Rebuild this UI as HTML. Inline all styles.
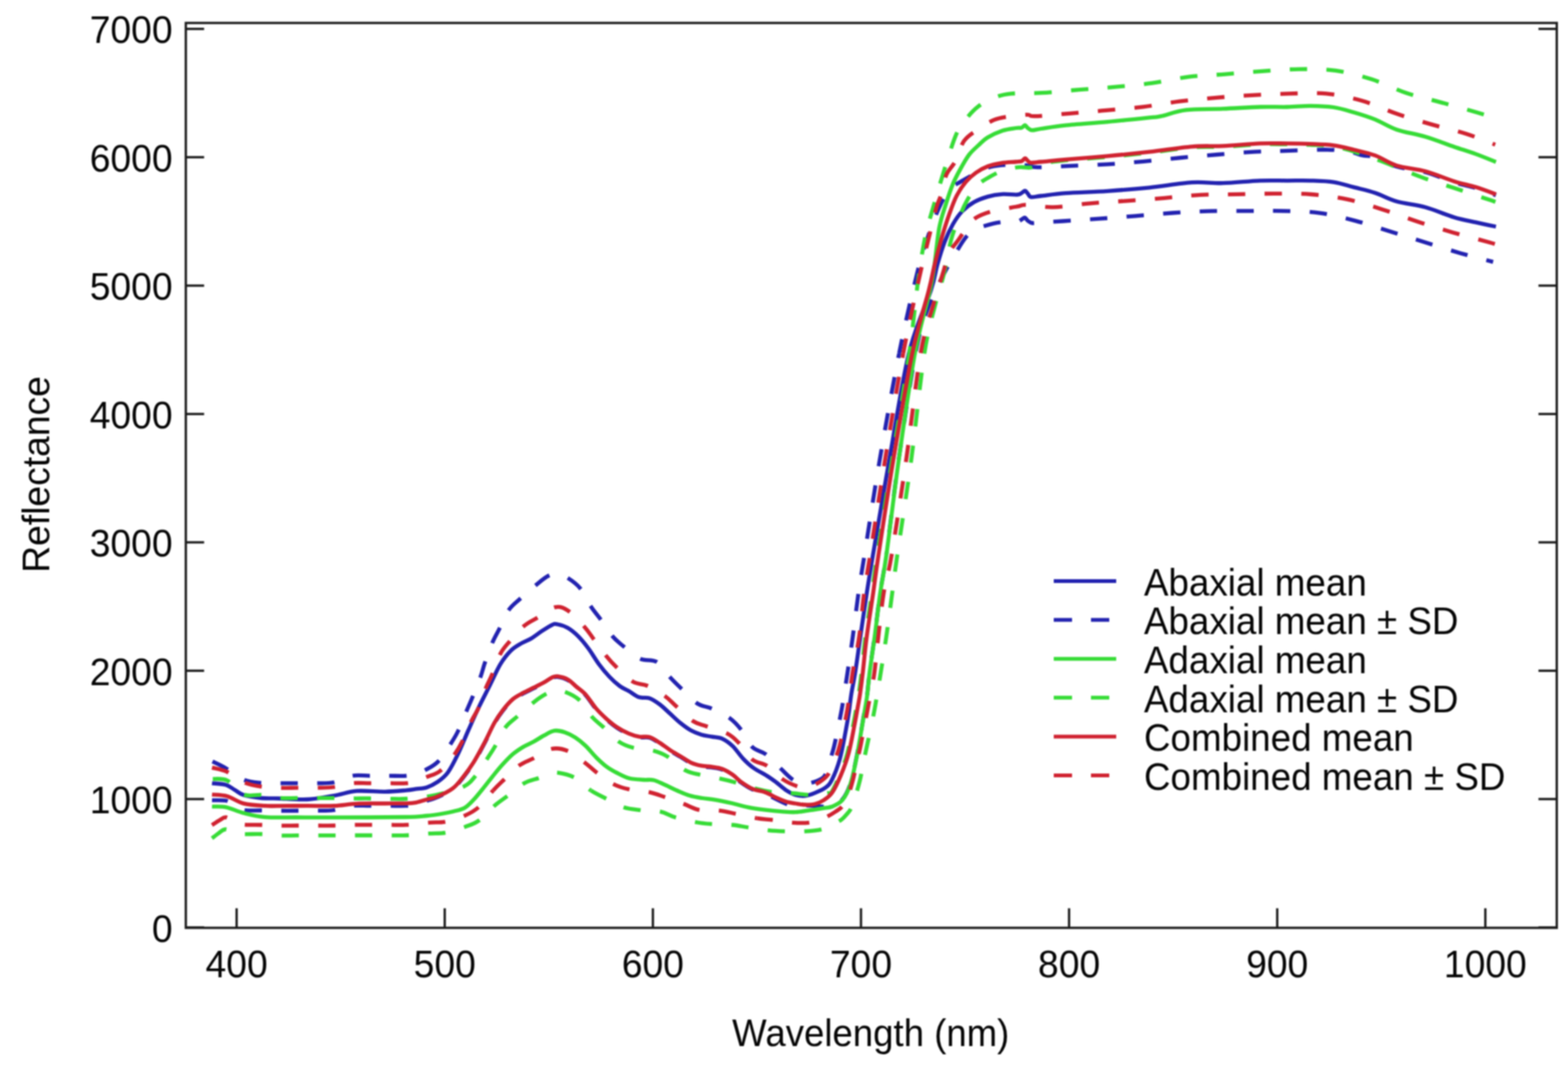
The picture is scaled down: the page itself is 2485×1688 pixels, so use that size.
<!DOCTYPE html><html><head><meta charset="utf-8"><title>Reflectance</title><style>html,body{margin:0;padding:0;background:#fff;}svg{display:block;}#c{width:2485px;height:1688px;filter:blur(1px);}text{font-family:"Liberation Sans",sans-serif;fill:#050505;}</style></head><body>
<div id="c">
<svg width="2485" height="1688" viewBox="0 0 2485 1688">
<rect width="2485" height="1688" fill="#fff"/>
<g fill="none" stroke-width="6.3" stroke-linejoin="round" stroke-linecap="butt">
<path d="M336.0 1241.3C339.7 1241.8 352.0 1242.2 358.0 1244.0C364.0 1245.8 367.2 1249.3 372.0 1252.0C376.8 1254.7 379.3 1258.1 386.5 1260.3C393.7 1262.5 406.1 1264.1 415.0 1265.0C423.9 1265.9 428.0 1265.2 440.0 1265.5C452.0 1265.8 472.1 1267.8 487.0 1267.0C501.9 1266.2 516.5 1263.2 529.6 1261.0C542.7 1258.8 552.0 1254.7 565.4 1253.7C578.8 1252.7 596.9 1255.0 610.0 1254.8C623.1 1254.6 635.5 1253.3 643.8 1252.6C652.1 1251.9 654.5 1251.2 660.0 1250.4C665.5 1249.6 671.0 1249.7 676.5 1247.9C682.0 1246.1 687.4 1243.5 692.9 1239.7C698.4 1235.9 703.9 1232.3 709.4 1224.9C714.9 1217.5 720.3 1206.5 725.8 1195.2C731.3 1184.0 736.8 1169.8 742.3 1157.4C747.8 1145.0 753.1 1132.9 758.8 1121.0C764.5 1109.1 770.8 1097.2 776.5 1085.8C782.2 1074.4 787.4 1061.9 792.9 1052.8C798.4 1043.7 803.9 1036.9 809.4 1031.4C814.9 1025.9 820.3 1023.2 825.8 1019.9C831.3 1016.6 836.8 1015.0 842.3 1011.7C847.8 1008.4 853.3 1003.8 858.8 1000.2C864.3 996.6 871.1 992.1 875.2 990.3C879.3 988.5 879.4 988.7 883.5 989.5C887.6 990.3 894.4 992.1 899.9 995.2C905.4 998.4 910.9 1002.9 916.4 1008.4C921.9 1013.9 927.3 1020.7 932.8 1028.1C938.3 1035.5 943.8 1045.4 949.3 1052.8C954.8 1060.2 960.3 1066.8 965.8 1072.6C971.3 1078.4 977.1 1083.6 982.2 1087.4C987.3 1091.2 991.4 1092.2 996.5 1095.2C1001.6 1098.2 1007.4 1103.2 1012.9 1105.1C1018.4 1107.0 1023.9 1104.8 1029.4 1106.7C1034.9 1108.6 1040.3 1112.5 1045.8 1116.6C1051.3 1120.7 1056.8 1126.5 1062.3 1131.4C1067.8 1136.4 1073.3 1141.9 1078.8 1146.3C1084.3 1150.7 1089.7 1154.8 1095.2 1157.8C1100.7 1160.8 1106.2 1162.8 1111.7 1164.4C1117.2 1166.1 1122.6 1166.6 1128.1 1167.7C1133.6 1168.8 1139.1 1168.4 1144.6 1170.9C1150.1 1173.4 1155.6 1177.3 1161.1 1182.5C1166.6 1187.7 1172.0 1196.5 1177.5 1202.2C1183.0 1208.0 1187.7 1212.5 1194.0 1217.0C1200.3 1221.5 1209.1 1225.7 1215.2 1229.5C1221.3 1233.3 1225.3 1236.3 1230.4 1240.1C1235.5 1243.9 1240.5 1249.0 1245.6 1252.3C1250.7 1255.6 1255.7 1258.4 1260.8 1259.9C1265.9 1261.4 1270.9 1261.9 1276.0 1261.4C1281.1 1260.9 1285.9 1259.0 1291.2 1256.8C1296.5 1254.6 1303.5 1251.9 1308.0 1248.5C1312.5 1245.1 1314.6 1243.8 1318.4 1236.2C1322.2 1228.6 1327.4 1215.7 1331.0 1203.0C1334.6 1190.3 1337.6 1172.5 1340.0 1160.0C1342.4 1147.5 1344.0 1138.0 1345.5 1128.0C1347.0 1118.0 1347.5 1110.5 1349.2 1100.0C1350.9 1089.5 1353.1 1080.0 1355.5 1065.0C1357.9 1050.0 1360.4 1030.8 1363.4 1010.0C1366.4 989.2 1370.4 961.7 1373.7 940.0C1377.0 918.3 1377.5 915.0 1383.4 880.0C1389.3 845.0 1399.7 783.3 1409.2 730.0C1418.7 676.7 1429.4 605.0 1440.4 560.0C1451.4 515.0 1467.9 483.4 1475.4 460.0C1482.9 436.6 1482.0 432.2 1485.6 419.4C1489.2 406.6 1493.1 393.7 1497.2 383.0C1501.3 372.3 1505.7 363.3 1510.3 355.3C1514.9 347.3 1519.3 340.7 1524.9 334.9C1530.5 329.1 1537.0 324.2 1543.8 320.3C1550.6 316.4 1558.4 313.7 1565.7 311.6C1573.0 309.5 1579.8 308.3 1587.5 307.8C1595.2 307.3 1606.8 308.8 1612.0 308.5C1617.2 308.2 1616.9 307.0 1619.0 306.0C1621.1 305.0 1622.9 302.3 1624.6 302.5C1626.3 302.7 1627.4 305.4 1629.0 307.0C1630.6 308.6 1630.5 311.7 1634.0 312.3C1637.5 312.9 1640.9 311.5 1650.0 310.5C1659.1 309.5 1671.2 307.4 1688.7 306.1C1706.2 304.8 1733.0 304.3 1755.2 302.8C1777.4 301.3 1799.4 299.6 1821.7 297.3C1844.0 295.0 1869.6 290.4 1889.0 289.2C1908.4 288.0 1920.1 290.7 1938.1 290.2C1956.1 289.7 1980.0 286.9 1997.0 286.3C2014.0 285.7 2026.7 286.3 2040.0 286.3C2053.3 286.3 2064.6 285.9 2076.8 286.3C2089.0 286.7 2101.8 286.9 2113.2 288.6C2124.6 290.3 2134.2 293.8 2145.2 296.6C2156.2 299.5 2167.9 301.9 2179.3 305.7C2190.7 309.5 2200.2 315.5 2213.5 319.3C2226.8 323.1 2243.9 324.3 2259.1 328.5C2274.3 332.7 2291.4 340.4 2304.7 344.4C2318.0 348.4 2327.9 349.9 2338.9 352.4C2349.9 354.9 2365.5 358.1 2370.8 359.2" stroke="#2222b0"/>
<path d="M336.0 1206.6C339.7 1208.4 349.6 1212.7 358.0 1217.6C366.4 1222.5 377.0 1232.1 386.5 1236.0C396.0 1239.9 405.5 1240.1 415.0 1241.0C424.5 1241.9 434.3 1241.3 443.5 1241.4C452.7 1241.5 460.6 1241.4 470.3 1241.4C480.0 1241.4 491.9 1241.6 501.7 1241.4C511.5 1241.2 519.6 1242.0 529.0 1240.0C538.4 1238.0 548.8 1231.3 558.2 1229.6C567.6 1227.9 576.0 1229.6 585.6 1229.6C595.2 1229.6 606.1 1229.6 615.8 1229.6C625.5 1229.6 636.4 1230.2 643.8 1229.6C651.2 1229.0 654.8 1227.6 660.0 1226.0C665.2 1224.4 669.0 1223.2 674.8 1220.0C680.6 1216.8 688.0 1213.6 694.6 1206.7C701.2 1199.8 709.1 1186.8 714.3 1178.8C719.5 1170.8 721.7 1167.5 725.8 1159.0C729.9 1150.5 735.1 1136.8 739.0 1127.7C742.9 1118.7 745.1 1113.9 748.9 1104.7C752.7 1095.5 758.4 1081.5 761.6 1072.6C764.8 1063.7 765.2 1060.0 768.2 1051.2C771.2 1042.4 775.9 1029.0 779.8 1019.9C783.6 1010.8 786.9 1005.7 791.3 996.9C795.7 988.1 800.5 975.2 806.0 967.2C811.5 959.2 817.1 955.7 824.2 949.1C831.4 942.5 841.5 933.7 848.9 927.7C856.3 921.7 862.8 915.9 868.6 912.9C874.5 909.9 878.8 909.5 884.0 910.0C889.2 910.5 893.9 912.4 899.9 916.2C905.9 920.0 913.7 925.3 919.7 932.7C925.7 940.1 930.9 952.8 936.1 960.7C941.3 968.7 945.1 972.5 950.9 980.4C956.7 988.3 964.4 1001.0 970.7 1008.4C977.0 1015.8 981.5 1018.9 988.8 1024.9C996.1 1030.9 1005.9 1040.2 1014.6 1044.2C1023.3 1048.2 1033.0 1044.2 1040.9 1049.1C1048.9 1054.0 1055.7 1066.7 1062.3 1073.8C1068.9 1080.9 1073.3 1085.0 1080.4 1091.9C1087.5 1098.8 1097.1 1109.8 1105.1 1115.0C1113.0 1120.2 1119.6 1119.4 1128.1 1123.2C1136.6 1127.0 1148.4 1132.5 1156.1 1138.0C1163.8 1143.5 1168.2 1148.4 1174.2 1156.1C1180.2 1163.8 1185.7 1177.5 1192.3 1184.1C1198.9 1190.7 1206.1 1189.8 1213.7 1195.6C1221.3 1201.4 1230.9 1212.1 1238.0 1218.8C1245.1 1225.5 1250.5 1231.6 1256.2 1235.5C1261.9 1239.4 1266.7 1241.2 1272.0 1242.0C1277.3 1242.8 1282.7 1241.8 1288.2 1240.1C1293.7 1238.4 1300.9 1236.2 1305.0 1232.0C1309.1 1227.8 1310.8 1221.2 1313.0 1215.0C1315.2 1208.8 1316.8 1201.2 1318.5 1195.0C1320.2 1188.8 1320.4 1189.8 1323.0 1178.0C1325.6 1166.2 1330.6 1142.8 1334.0 1124.0C1337.4 1105.2 1340.4 1084.0 1343.3 1065.0C1346.2 1046.0 1348.5 1030.8 1351.4 1010.0C1354.3 989.2 1357.4 961.7 1360.5 940.0C1363.6 918.3 1364.4 915.0 1370.0 880.0C1375.6 845.0 1384.8 783.3 1394.0 730.0C1403.2 676.7 1415.2 609.2 1425.0 560.0" stroke="#2222b0" stroke-dasharray="27.5 30.6" stroke-dashoffset="57.10"/>
<path d="M1425.0 560.0C1434.8 510.8 1445.5 465.5 1453.0 435.0C1460.5 404.5 1464.2 394.5 1470.0 377.0C1475.8 359.5 1482.2 342.8 1488.0 330.0C1493.8 317.2 1499.3 306.9 1505.0 300.0C1510.7 293.1 1515.5 292.3 1522.0 288.3C1528.5 284.3 1536.0 280.0 1544.0 276.0C1552.0 272.0 1560.7 267.0 1570.0 264.5C1579.3 262.0 1590.8 261.4 1600.0 261.0C1609.2 260.6 1617.6 261.3 1625.0 262.0C1632.4 262.7 1632.2 265.0 1644.3 265.1C1656.4 265.2 1679.0 263.7 1697.5 262.9C1716.0 262.1 1736.0 261.5 1755.2 260.3C1774.4 259.1 1793.4 257.5 1812.8 255.8C1832.2 254.1 1852.0 251.8 1871.4 250.0C1890.8 248.2 1910.0 246.6 1929.3 245.0C1948.6 243.4 1969.4 241.7 1987.2 240.7C2005.0 239.7 2016.8 239.8 2036.3 239.2C2055.8 238.6 2086.8 237.0 2104.1 237.3C2121.4 237.6 2130.7 239.5 2140.0 241.0C2149.3 242.5 2153.4 245.2 2160.0 246.5C2166.6 247.8 2170.4 246.1 2179.3 249.0C2188.2 251.9 2200.2 260.0 2213.5 264.0C2226.8 268.0 2243.9 268.8 2259.1 273.0C2274.3 277.2 2291.4 284.8 2304.7 289.0C2318.0 293.2 2327.9 294.6 2338.9 298.0C2349.9 301.4 2365.5 307.6 2370.8 309.5" stroke="#2222b0" stroke-dasharray="27.5 30.6" stroke-dashoffset="4.83"/>
<path d="M336.0 1268.4C339.7 1268.5 352.0 1267.7 358.0 1269.0C364.0 1270.3 367.2 1273.5 372.0 1276.0C376.8 1278.5 379.3 1282.6 386.5 1284.0C393.7 1285.4 405.5 1284.3 415.0 1284.5C424.5 1284.7 434.3 1284.9 443.5 1285.0C452.7 1285.1 460.6 1285.0 470.3 1285.0C480.0 1285.0 491.9 1285.2 501.7 1285.0C511.5 1284.8 519.6 1285.3 529.0 1284.0C538.4 1282.7 548.8 1278.3 558.2 1277.2C567.6 1276.1 576.0 1277.2 585.6 1277.2C595.2 1277.2 606.1 1277.2 615.8 1277.2C625.5 1277.2 636.4 1277.6 643.8 1277.2C651.2 1276.8 654.5 1276.4 660.0 1275.0C665.5 1273.6 671.5 1270.9 677.0 1269.0C682.5 1267.1 686.1 1266.8 692.9 1263.7C699.7 1260.6 710.8 1255.7 717.6 1250.5C724.5 1245.3 728.5 1239.2 734.0 1232.4C739.5 1225.6 745.0 1218.2 750.5 1209.4C756.0 1200.6 761.5 1190.2 767.0 1179.8C772.5 1169.4 778.6 1155.6 783.5 1146.8C788.4 1138.0 791.6 1133.4 796.5 1127.1C801.4 1120.8 807.4 1113.7 812.9 1109.0C818.4 1104.3 823.9 1102.1 829.4 1099.1C834.9 1096.1 840.3 1093.7 845.8 1090.9C851.3 1088.2 857.4 1085.3 862.3 1082.6C867.2 1079.9 871.7 1076.2 875.2 1074.6C878.7 1073.0 879.4 1072.4 883.5 1072.9C887.6 1073.5 895.0 1075.2 899.9 1077.9C904.8 1080.6 908.3 1085.0 913.0 1089.0C917.7 1093.0 922.8 1096.0 928.1 1101.8C933.4 1107.6 939.1 1117.4 944.6 1123.8C950.1 1130.2 955.6 1135.4 961.1 1140.3C966.6 1145.2 971.6 1149.5 977.5 1153.4C983.4 1157.3 990.6 1161.2 996.5 1163.7C1002.4 1166.2 1007.4 1167.8 1012.9 1168.7C1018.4 1169.6 1023.9 1167.6 1029.4 1169.2C1034.9 1170.8 1040.3 1175.0 1045.8 1178.5C1051.3 1182.0 1056.8 1186.5 1062.3 1190.1C1067.8 1193.7 1073.3 1196.6 1078.8 1199.9C1084.3 1203.2 1089.7 1207.3 1095.2 1209.8C1100.7 1212.3 1106.2 1213.6 1111.7 1214.7C1117.2 1215.8 1122.6 1215.6 1128.1 1216.4C1133.6 1217.2 1139.1 1217.6 1144.6 1219.7C1150.1 1221.8 1156.2 1225.5 1161.1 1228.9C1166.0 1232.3 1168.7 1236.2 1174.0 1240.0C1179.3 1243.8 1186.3 1248.6 1192.8 1251.4C1199.2 1254.2 1207.7 1254.8 1212.7 1256.7C1217.7 1258.6 1216.8 1259.8 1222.8 1262.9C1228.8 1266.0 1241.7 1272.8 1248.6 1275.1C1255.5 1277.4 1258.9 1276.8 1264.0 1277.0C1269.1 1277.2 1272.4 1276.2 1279.0 1276.5C1285.6 1276.8 1296.8 1278.3 1303.4 1278.5C1310.0 1278.7 1313.1 1279.4 1318.4 1277.5C1323.7 1275.6 1330.2 1272.9 1335.1 1267.0C1340.0 1261.1 1343.9 1253.3 1347.6 1242.2C1351.3 1231.1 1354.2 1216.6 1357.4 1200.4C1360.7 1184.2 1364.8 1158.6 1367.1 1145.0C1369.4 1131.4 1370.2 1126.7 1371.5 1119.0C1372.8 1111.3 1373.5 1108.2 1374.6 1099.0C1375.7 1089.8 1376.4 1079.0 1378.3 1064.0C1380.2 1049.0 1383.3 1029.8 1386.1 1009.0C1388.9 988.2 1391.9 960.7 1395.0 939.0C1398.1 917.3 1399.8 914.0 1404.7 879.0" stroke="#2222b0" stroke-dasharray="27.5 30.6" stroke-dashoffset="2.50"/>
<path d="M1404.7 879.0C1409.6 844.0 1416.5 782.2 1424.2 729.0C1431.9 675.8 1443.4 599.8 1451.0 560.0C1458.6 520.2 1462.5 511.0 1470.0 490.0C1477.5 469.0 1486.4 452.3 1496.0 434.0C1505.6 415.7 1519.6 391.7 1527.8 380.0C1536.0 368.3 1539.7 367.6 1545.0 364.0C1550.3 360.4 1553.3 360.1 1559.9 358.2C1566.5 356.3 1575.9 353.6 1584.6 352.4C1593.3 351.2 1606.4 351.6 1612.0 351.0C1617.6 350.4 1616.0 349.5 1618.0 348.5C1620.0 347.5 1622.2 344.8 1624.0 345.0C1625.8 345.2 1627.0 348.6 1629.0 350.0C1631.0 351.4 1632.5 353.1 1636.0 353.5C1639.5 353.9 1642.0 353.0 1650.0 352.5C1658.0 352.0 1668.9 351.5 1684.2 350.5C1699.5 349.5 1722.7 348.1 1741.9 346.7C1761.1 345.3 1780.2 343.8 1799.5 342.3C1818.8 340.8 1838.6 338.8 1857.9 337.5C1877.2 336.2 1896.2 335.2 1915.6 334.7C1935.0 334.2 1955.0 334.4 1974.4 334.4C1993.9 334.3 2012.8 333.9 2032.3 334.4C2051.8 334.9 2072.2 335.0 2091.6 337.6C2111.0 340.2 2129.8 345.2 2148.6 350.1C2167.4 355.0 2186.0 361.5 2204.4 367.2C2222.8 372.9 2240.7 378.6 2259.1 384.3C2277.5 390.0 2297.1 396.3 2315.0 401.4C2332.9 406.5 2357.8 412.8 2366.3 415.1" stroke="#2222b0" stroke-dasharray="27.5 30.6" stroke-dashoffset="22.66"/>
<path d="M336.0 1278.4C339.7 1278.6 349.6 1277.6 358.0 1279.3C366.4 1281.0 376.2 1286.2 386.5 1288.8C396.8 1291.4 406.1 1294.0 420.0 1295.1C433.9 1296.2 451.7 1295.4 470.0 1295.5C488.3 1295.6 501.4 1295.8 530.0 1295.7C558.6 1295.6 617.3 1295.5 641.6 1295.0C665.9 1294.5 665.9 1293.9 676.0 1293.0C686.1 1292.1 694.8 1290.7 702.0 1289.5C709.2 1288.3 713.3 1287.5 719.0 1286.0C724.7 1284.5 731.0 1283.5 736.3 1280.5C741.5 1277.5 745.4 1273.1 750.5 1267.7C755.6 1262.3 762.1 1254.0 767.0 1247.9C771.9 1241.9 775.1 1237.4 780.0 1231.4C784.9 1225.4 791.0 1217.7 796.5 1211.7C802.0 1205.7 807.4 1199.9 812.9 1195.2C818.4 1190.5 823.9 1187.0 829.4 1183.7C834.9 1180.4 840.3 1178.5 845.8 1175.5C851.3 1172.5 856.8 1168.5 862.3 1165.6C867.8 1162.7 873.3 1159.0 878.8 1158.2C884.3 1157.4 889.7 1158.9 895.2 1160.7C900.7 1162.5 906.2 1165.3 911.7 1168.9C917.2 1172.5 922.6 1176.9 928.1 1182.1C933.6 1187.3 939.1 1194.7 944.6 1200.2C950.1 1205.7 955.6 1210.9 961.1 1215.0C966.6 1219.1 971.5 1221.8 977.5 1224.9C983.5 1228.0 989.9 1231.7 997.0 1233.5C1004.1 1235.3 1013.4 1235.5 1019.9 1236.0C1026.4 1236.5 1030.4 1235.2 1035.9 1236.5C1041.5 1237.8 1047.0 1241.0 1053.2 1243.7C1059.4 1246.5 1066.4 1250.1 1073.1 1253.0C1079.8 1255.9 1086.4 1259.0 1093.1 1261.0C1099.8 1263.0 1106.3 1263.9 1113.0 1265.0C1119.7 1266.1 1125.2 1266.3 1133.0 1267.6C1140.8 1268.9 1150.8 1271.0 1159.6 1273.0C1168.4 1275.0 1177.2 1277.8 1186.1 1279.6C1194.9 1281.4 1203.7 1282.5 1212.7 1283.6C1221.7 1284.7 1232.0 1285.7 1240.0 1286.3C1248.0 1286.9 1253.5 1287.5 1260.8 1287.2C1268.1 1286.9 1276.0 1285.3 1283.6 1284.2C1291.2 1283.1 1300.6 1281.5 1306.4 1280.6C1312.2 1279.6 1313.6 1280.6 1318.4 1278.5C1323.2 1276.4 1330.2 1273.9 1335.1 1268.0C1340.0 1262.1 1343.9 1254.3 1347.6 1243.2C1351.3 1232.1 1354.2 1217.6 1357.4 1201.4C1360.7 1185.2 1364.8 1159.6 1367.1 1146.0C1369.4 1132.4 1370.2 1127.7 1371.5 1120.0C1372.8 1112.3 1373.5 1109.2 1374.6 1100.0C1375.7 1090.8 1376.4 1080.0 1378.3 1065.0C1380.2 1050.0 1383.3 1030.8 1386.1 1010.0C1388.9 989.2 1391.9 961.7 1395.0 940.0C1398.1 918.3 1399.8 915.0 1404.7 880.0C1409.6 845.0 1416.7 783.3 1424.2 730.0C1431.8 676.7 1441.7 605.0 1450.0 560.0C1458.3 515.0 1468.8 483.3 1474.0 460.0C1479.2 436.7 1478.6 436.5 1481.0 420.0C1483.4 403.5 1485.5 377.0 1488.5 361.1C1491.5 345.2 1495.1 336.2 1498.7 324.7C1502.3 313.2 1506.1 301.4 1510.0 292.0C1513.9 282.6 1517.7 275.8 1522.0 268.0C1526.3 260.2 1531.2 251.3 1536.0 245.0C1540.8 238.7 1546.2 234.5 1551.0 230.0C1555.8 225.5 1558.7 221.8 1565.0 218.0C1571.3 214.2 1581.5 209.5 1589.0 207.0C1596.5 204.5 1605.0 203.8 1610.0 203.0C1615.0 202.2 1616.6 203.2 1619.0 202.5C1621.4 201.8 1622.7 198.4 1624.4 198.5C1626.1 198.6 1627.2 201.7 1629.0 203.0C1630.8 204.3 1632.0 206.2 1635.5 206.4C1639.0 206.6 1641.1 205.3 1650.0 204.0C1658.9 202.7 1671.2 200.4 1688.7 198.6C1706.2 196.8 1733.0 195.1 1755.2 193.1C1777.4 191.1 1807.6 187.9 1821.7 186.4C1835.8 184.9 1830.4 186.2 1840.0 184.2C1849.6 182.2 1863.0 176.4 1879.3 174.4C1895.6 172.4 1918.5 173.2 1938.1 172.4C1957.7 171.6 1980.0 170.0 1997.0 169.5C2014.0 169.0 2026.7 169.8 2040.0 169.5C2053.3 169.2 2064.6 167.7 2076.8 167.8C2089.0 167.9 2101.8 168.3 2113.2 170.0C2124.6 171.7 2134.2 174.8 2145.2 178.0C2156.2 181.2 2167.9 184.8 2179.3 189.4C2190.7 194.0 2200.2 200.8 2213.5 205.4C2226.8 210.0 2243.9 212.2 2259.1 216.8C2274.3 221.4 2291.4 228.1 2304.7 232.7C2318.0 237.2 2327.9 240.1 2338.9 244.1C2349.9 248.1 2365.5 254.6 2370.8 256.7" stroke="#36dc36"/>
<path d="M336.0 1234.7C340.0 1235.1 351.6 1232.9 360.0 1237.0C368.4 1241.1 377.3 1255.6 386.5 1259.4C395.7 1263.2 405.5 1259.1 415.0 1260.0C424.5 1260.9 434.3 1264.1 443.5 1264.9C452.7 1265.7 460.6 1264.9 470.3 1264.9C480.0 1264.9 491.9 1264.9 501.7 1264.9C511.5 1264.9 519.6 1264.8 529.0 1264.9C538.4 1265.0 548.8 1265.4 558.2 1265.5C567.6 1265.6 576.0 1265.4 585.6 1265.5C595.2 1265.6 606.1 1265.9 615.8 1266.0C625.5 1266.1 633.1 1266.7 643.8 1266.0C654.5 1265.3 669.5 1263.7 680.0 1262.0C690.5 1260.3 697.7 1258.6 707.0 1256.0" stroke="#36dc36" stroke-dasharray="27.5 30.6" stroke-dashoffset="56.60"/>
<path d="M707.0 1256.0C716.3 1253.4 728.2 1250.4 735.7 1246.3C743.2 1242.2 745.9 1239.1 752.2 1231.4C758.5 1223.7 768.1 1208.4 773.6 1200.2C779.1 1192.0 780.5 1190.0 785.1 1182.0C789.7 1174.0 795.5 1160.2 801.4 1152.4C807.3 1144.6 813.1 1141.6 820.5 1135.0C827.9 1128.4 838.5 1118.8 846.0 1112.9C853.5 1107.0 859.9 1102.8 865.6 1099.8C871.3 1096.8 875.1 1095.5 880.0 1095.0C884.9 1094.5 888.8 1094.1 895.2 1096.5C901.6 1098.9 911.2 1103.0 918.3 1109.6C925.4 1116.2 931.7 1128.9 938.0 1136.0C944.3 1143.1 949.0 1145.8 956.1 1152.4C963.2 1159.0 972.8 1170.0 980.8 1175.5C988.8 1181.0 994.7 1182.9 1003.9 1185.3C1013.1 1187.7 1027.1 1187.7 1036.0 1190.0C1044.9 1192.3 1049.0 1193.7 1057.4 1198.9C1065.8 1204.1 1077.8 1216.3 1086.4 1221.1C1095.0 1225.9 1099.7 1225.6 1109.0 1227.8C1118.3 1230.0 1133.0 1232.4 1142.3 1234.4C1151.6 1236.4 1155.3 1237.3 1164.9 1240.0C1174.5 1242.7 1189.5 1247.8 1200.0 1250.5C1210.5 1253.2 1219.1 1254.9 1228.0 1256.0C1236.9 1257.1 1243.9 1256.3 1253.2 1257.0C1262.5 1257.7 1275.8 1259.7 1283.6 1259.9C1291.4 1260.2 1295.4 1259.0 1300.0 1258.5C1304.6 1258.0 1308.0 1257.6 1311.0 1257.0C1314.0 1256.4 1314.8 1259.7 1318.0 1255.0C1321.2 1250.3 1326.4 1239.1 1330.5 1229.0C1334.6 1218.9 1339.1 1208.2 1342.8 1194.5C1346.5 1180.8 1350.1 1159.5 1352.6 1147.0C1355.1 1134.5 1356.2 1127.4 1357.6 1119.6C1359.0 1111.8 1359.7 1109.1 1361.0 1100.0C1362.3 1090.9 1363.8 1080.0 1365.5 1065.0C1367.2 1050.0 1368.8 1030.8 1371.5 1010.0C1374.2 989.2 1378.7 961.7 1381.8 940.0C1384.9 918.3 1384.9 915.0 1390.2 880.0C1395.5 845.0 1405.1 783.3 1413.6 730.0C1422.1 676.7 1434.1 607.5 1441.0 560.0" stroke="#36dc36" stroke-dasharray="27.5 30.6" stroke-dashoffset="30.30"/>
<path d="M1441.0 560.0C1447.9 512.5 1450.8 475.5 1455.0 445.0C1459.2 414.5 1461.8 397.2 1466.0 377.0C1470.2 356.8 1475.1 342.2 1480.3 324.0C1485.5 305.8 1491.2 286.3 1497.0 268.0C1502.8 249.7 1509.5 227.0 1515.0 214.0C1520.5 201.0 1524.2 197.5 1530.0 190.0C1535.8 182.5 1542.5 174.8 1550.0 169.0C1557.5 163.2 1566.2 158.4 1575.0 155.0C1583.8 151.6 1590.3 149.7 1603.0 148.4C1615.7 147.1 1633.0 148.2 1651.0 147.2C1669.0 146.1 1691.2 143.7 1710.8 142.1C1730.4 140.5 1749.3 139.4 1768.5 137.7C1787.7 136.0 1806.8 134.4 1826.1 131.7C1845.4 129.0 1865.2 124.0 1884.5 121.7C1903.8 119.4 1922.4 119.1 1941.7 117.6C1961.0 116.1 1980.7 114.1 2000.2 112.8C2019.7 111.5 2039.1 109.8 2058.5 109.6C2077.9 109.4 2097.5 109.2 2116.7 111.9C2135.9 114.6 2155.0 119.7 2173.6 125.6C2192.2 131.5 2210.2 141.1 2228.4 147.2C2246.6 153.3 2264.4 157.0 2283.0 162.1C2301.6 167.2 2325.5 173.8 2340.0 178.0C2354.5 182.2 2365.0 185.5 2370.0 187.0" stroke="#36dc36" stroke-dasharray="27.5 30.6" stroke-dashoffset="16.42"/>
<path d="M336.0 1328.7C337.7 1327.4 342.5 1323.4 346.0 1321.0C349.5 1318.6 352.7 1314.7 357.0 1314.5C361.3 1314.3 367.1 1318.8 372.0 1320.0C376.9 1321.2 379.3 1321.7 386.5 1322.0C393.7 1322.3 405.5 1321.6 415.0 1322.0C424.5 1322.4 434.3 1323.8 443.5 1324.2C452.7 1324.6 460.6 1324.2 470.3 1324.2C480.0 1324.2 491.9 1324.2 501.7 1324.2C511.5 1324.2 519.6 1324.2 529.0 1324.2C538.4 1324.2 548.8 1324.0 558.2 1324.0C567.6 1324.0 576.0 1324.0 585.6 1324.0C595.2 1324.0 606.1 1324.0 615.8 1324.0C625.5 1324.0 633.1 1324.5 643.8 1324.0C654.5 1323.5 669.1 1322.0 679.8 1321.2C690.4 1320.5 698.1 1321.3 707.7 1319.5C717.3 1317.7 728.9 1313.6 737.4 1310.4C745.9 1307.2 750.8 1306.3 758.8 1300.6C766.8 1294.8 777.4 1282.5 785.1 1275.9C792.8 1269.3 797.2 1266.9 804.9 1261.1C812.5 1255.3 822.8 1246.0 831.0 1241.3C839.2 1236.6 847.6 1235.5 854.1 1233.1C860.6 1230.7 864.8 1228.4 870.0 1227.0C875.2 1225.6 878.3 1223.9 885.3 1224.9C892.2 1225.9 903.2 1228.4 911.7 1233.1C920.2 1237.8 928.2 1247.3 936.4 1252.8" stroke="#36dc36" stroke-dasharray="27.5 30.6" stroke-dashoffset="0.00"/>
<path d="M936.4 1252.8C944.6 1258.3 952.6 1261.6 961.1 1266.0C969.6 1270.4 978.4 1276.2 987.4 1279.2C996.4 1282.2 1005.5 1282.9 1015.4 1284.1C1025.2 1285.3 1037.3 1284.4 1046.5 1286.3C1055.7 1288.2 1060.8 1292.7 1070.5 1295.6C1080.2 1298.5 1095.2 1301.7 1105.0 1303.5C1114.8 1305.3 1119.7 1305.5 1129.0 1306.2C1138.3 1306.9 1151.4 1306.6 1160.9 1307.5C1170.4 1308.4 1176.5 1310.1 1186.1 1311.5C1195.6 1312.9 1208.3 1315.1 1218.2 1316.1C1228.1 1317.1 1236.0 1317.3 1245.6 1317.6C1255.2 1317.8 1266.6 1318.1 1276.0 1317.6C1285.4 1317.1 1294.6 1316.4 1301.9 1314.6C1309.2 1312.8 1314.7 1309.1 1320.0 1306.5C1325.3 1303.9 1330.0 1301.7 1333.7 1299.0C1337.4 1296.3 1339.5 1293.5 1342.0 1290.5C1344.5 1287.5 1346.7 1285.7 1349.0 1280.8C1351.3 1275.9 1353.7 1268.5 1356.0 1261.0C1358.3 1253.5 1360.9 1244.8 1363.0 1236.0C1365.1 1227.2 1366.6 1217.3 1368.5 1208.0C1370.4 1198.7 1372.4 1189.7 1374.5 1180.0C1376.6 1170.3 1379.0 1159.7 1381.0 1150.0" stroke="#36dc36" stroke-dasharray="27.5 30.6" stroke-dashoffset="57.90"/>
<path d="M1381.0 1150.0C1383.0 1140.3 1384.8 1131.2 1386.5 1122.0C1388.2 1112.8 1389.4 1104.5 1391.0 1095.0C1392.6 1085.5 1393.8 1079.2 1396.0 1065.0C1398.2 1050.8 1401.5 1030.8 1404.5 1010.0C1407.5 989.2 1411.1 961.7 1414.0 940.0C1416.9 918.3 1417.0 915.0 1422.0 880.0C1427.0 845.0 1436.8 783.3 1444.0 730.0C1451.2 676.7 1458.5 601.7 1465.0 560.0C1471.5 518.3 1477.8 501.0 1483.0 480.0C1488.2 459.0 1491.9 450.7 1496.0 434.0C1500.1 417.3 1503.4 394.8 1507.4 380.0C1511.4 365.2 1515.7 355.5 1520.0 345.0C1524.3 334.5 1528.0 325.7 1533.0 317.0C1538.0 308.3 1544.0 299.2 1550.0 293.0C1556.0 286.8 1562.3 283.8 1569.0 280.0C1575.7 276.2 1583.2 272.4 1590.0 270.0C1596.8 267.6 1605.0 266.3 1610.0 265.5C1615.0 264.7 1616.0 265.0 1620.0 265.0C1624.0 265.0 1629.0 266.4 1634.0 265.5C1639.0 264.6 1640.9 261.4 1650.0 259.5C1659.1 257.6 1671.2 256.0 1688.7 254.2C1706.2 252.4 1733.0 250.7 1755.2 248.7C1777.4 246.7 1799.4 244.5 1821.7 242.0C1844.0 239.5 1869.6 235.2 1889.0 233.6C1908.4 232.0 1920.1 233.4 1938.1 232.6C1956.1 231.8 1980.0 229.3 1997.0 228.7C2014.0 228.0 2026.7 228.6 2040.0 228.7C2053.3 228.8 2064.6 228.9 2076.8 229.5C2089.0 230.1 2101.8 230.2 2113.2 232.0C2124.6 233.8 2135.7 237.2 2145.2 240.0C2154.7 242.8 2161.7 246.0 2170.0 249.0C2178.3 252.0 2181.6 252.5 2195.3 257.8C2209.0 263.1 2233.7 273.8 2252.3 280.6C2270.9 287.4 2288.8 292.7 2307.0 298.8C2325.2 304.9 2351.2 313.6 2361.7 317.1C2372.2 320.6 2368.6 319.5 2370.0 320.0" stroke="#36dc36" stroke-dasharray="27.5 30.6" stroke-dashoffset="43.51"/>
<path d="M336.0 1259.4C340.0 1259.8 351.6 1259.6 360.0 1262.0C368.4 1264.4 376.5 1271.1 386.5 1273.6C396.5 1276.1 411.1 1276.6 420.0 1277.2C428.9 1277.8 428.8 1277.4 440.0 1277.4C451.2 1277.4 472.1 1277.2 487.0 1277.2C501.9 1277.2 516.5 1277.8 529.6 1277.2C542.7 1276.6 552.0 1274.4 565.4 1273.8C578.8 1273.2 596.9 1273.6 610.0 1273.5C623.1 1273.4 635.5 1273.6 643.8 1273.3C652.1 1273.0 654.5 1272.8 660.0 1271.8C665.5 1270.8 671.5 1268.5 677.0 1267.0C682.5 1265.5 686.1 1265.6 692.9 1262.7C699.7 1259.8 710.8 1254.7 717.6 1249.5C724.5 1244.3 728.5 1238.2 734.0 1231.4C739.5 1224.6 745.0 1217.2 750.5 1208.4C756.0 1199.6 761.5 1189.2 767.0 1178.8C772.5 1168.4 778.6 1154.6 783.5 1145.8C788.4 1137.0 791.6 1132.4 796.5 1126.1C801.4 1119.8 807.4 1112.7 812.9 1108.0C818.4 1103.3 823.9 1101.1 829.4 1098.1C834.9 1095.1 840.3 1092.7 845.8 1089.9C851.3 1087.2 857.4 1084.3 862.3 1081.6C867.2 1078.9 871.7 1075.2 875.2 1073.6C878.7 1072.0 879.4 1071.4 883.5 1071.9C887.6 1072.5 895.0 1074.2 899.9 1076.9C904.8 1079.6 908.3 1084.0 913.0 1088.0C917.7 1092.0 922.8 1095.0 928.1 1100.8C933.4 1106.6 939.1 1116.4 944.6 1122.8C950.1 1129.2 955.6 1134.4 961.1 1139.3C966.6 1144.2 971.6 1148.5 977.5 1152.4C983.4 1156.3 990.6 1160.2 996.5 1162.7C1002.4 1165.2 1007.4 1166.8 1012.9 1167.7C1018.4 1168.6 1023.9 1166.6 1029.4 1168.2C1034.9 1169.8 1040.3 1174.0 1045.8 1177.5C1051.3 1181.0 1056.8 1185.5 1062.3 1189.1C1067.8 1192.7 1073.3 1195.6 1078.8 1198.9C1084.3 1202.2 1089.7 1206.3 1095.2 1208.8C1100.7 1211.3 1106.2 1212.6 1111.7 1213.7C1117.2 1214.8 1122.6 1214.6 1128.1 1215.4C1133.6 1216.2 1139.1 1216.6 1144.6 1218.7C1150.1 1220.8 1156.2 1224.5 1161.1 1227.9C1166.0 1231.3 1168.7 1235.2 1174.0 1239.0C1179.3 1242.8 1186.3 1247.6 1192.8 1250.4C1199.2 1253.2 1206.4 1253.4 1212.7 1255.7C1219.0 1258.0 1224.9 1261.9 1230.4 1264.4C1235.9 1266.9 1240.5 1269.0 1245.6 1270.5C1250.7 1272.0 1255.7 1272.7 1260.8 1273.5C1265.9 1274.3 1270.9 1275.3 1276.0 1275.5C1281.1 1275.7 1286.2 1275.8 1291.2 1274.5C1296.2 1273.2 1301.2 1271.1 1305.8 1268.0C1310.4 1264.9 1314.5 1262.5 1319.0 1256.0C1323.5 1249.5 1328.2 1239.2 1332.5 1229.0C1336.8 1218.8 1341.1 1208.2 1344.8 1194.5C1348.5 1180.8 1352.1 1159.5 1354.6 1147.0C1357.1 1134.5 1358.2 1127.4 1359.6 1119.6C1361.0 1111.8 1361.7 1109.1 1363.0 1100.0C1364.3 1090.9 1365.8 1080.0 1367.5 1065.0C1369.2 1050.0 1370.8 1030.8 1373.5 1010.0C1376.2 989.2 1380.7 961.7 1383.8 940.0C1386.9 918.3 1386.9 915.0 1392.2 880.0C1397.5 845.0 1406.7 783.3 1415.6 730.0C1424.5 676.7 1436.4 605.0 1445.8 560.0C1455.2 515.0 1466.1 483.4 1472.0 460.0C1477.9 436.6 1477.7 433.4 1481.2 419.4C1484.7 405.3 1488.9 389.0 1492.8 375.7C1496.7 362.4 1500.6 350.2 1504.5 339.3C1508.4 328.4 1511.8 318.6 1516.2 310.1C1520.6 301.6 1525.6 294.4 1530.7 288.3C1535.8 282.2 1540.9 277.8 1546.7 273.7C1552.5 269.6 1558.9 266.1 1565.7 263.5C1572.5 260.9 1580.2 259.6 1587.5 258.4C1594.8 257.2 1604.2 257.0 1609.4 256.5C1614.7 256.0 1616.5 256.4 1619.0 255.5C1621.5 254.6 1622.9 251.1 1624.6 251.0C1626.3 250.9 1627.4 253.9 1629.0 255.0C1630.6 256.1 1630.5 257.6 1634.0 257.8C1637.5 258.1 1640.9 257.3 1650.0 256.5C1659.1 255.7 1671.2 254.4 1688.7 252.9C1706.2 251.4 1733.0 249.4 1755.2 247.4C1777.4 245.4 1799.4 243.2 1821.7 240.7C1844.0 238.2 1869.6 233.9 1889.0 232.3C1908.4 230.7 1920.1 232.1 1938.1 231.3C1956.1 230.5 1980.0 228.1 1997.0 227.4C2014.0 226.8 2026.7 227.3 2040.0 227.4C2053.3 227.5 2064.6 227.7 2076.8 228.2C2089.0 228.7 2101.8 228.9 2113.2 230.4C2124.6 231.9 2134.2 234.6 2145.2 237.3C2156.2 240.0 2167.9 242.2 2179.3 246.4C2190.7 250.6 2200.2 258.2 2213.5 262.4C2226.8 266.6 2243.9 267.3 2259.1 271.5C2274.3 275.7 2291.4 283.2 2304.7 287.4C2318.0 291.6 2327.9 293.2 2338.9 296.6C2349.9 300.0 2365.5 306.1 2370.8 308.0" stroke="#d02230"/>
<path d="M336.0 1216.6C340.0 1217.7 351.6 1219.4 360.0 1223.3C368.4 1227.2 377.3 1236.0 386.5 1240.0C395.7 1244.0 405.5 1245.5 415.0 1247.0C424.5 1248.5 434.3 1248.4 443.5 1248.7C452.7 1249.0 460.6 1248.7 470.3 1248.7C480.0 1248.7 491.9 1248.9 501.7 1248.7C511.5 1248.5 519.6 1248.7 529.0 1247.5C538.4 1246.3 548.8 1242.4 558.2 1241.4C567.6 1240.4 576.0 1241.4 585.6 1241.4C595.2 1241.4 606.1 1241.4 615.8 1241.4C625.5 1241.4 636.4 1242.0 643.8 1241.4C651.2 1240.8 654.5 1239.7 660.0 1238.0C665.5 1236.3 670.2 1234.1 676.5 1231.4C682.8 1228.7 690.5 1227.7 697.9 1221.6C705.3 1215.5 715.1 1202.7 720.9 1195.0C726.6 1187.3 728.0 1184.2 732.4 1175.5C736.8 1166.8 742.8 1151.6 747.2 1142.6C751.6 1133.5 755.0 1129.8 758.8 1121.2C762.6 1112.6 766.4 1099.4 769.9 1090.7C773.4 1082.0 776.0 1078.3 779.8 1069.3C783.6 1060.2 788.2 1045.2 792.9 1036.4C797.5 1027.6 801.4 1024.0 807.7 1016.6C814.0 1009.2 823.4 998.2 830.8 991.9C838.2 985.6 844.0 983.7 852.2 978.8C860.4 973.9 872.0 963.9 880.2 962.3C888.4 960.6 893.9 963.7 901.6 968.9C909.3 974.1 919.7 986.2 926.3 993.6C932.9 1001.0 935.4 1005.6 941.1 1013.3C946.9 1021.0 954.8 1032.3 960.8 1039.7C966.8 1047.1 970.3 1051.0 977.3 1057.8C984.3 1064.6 994.9 1075.5 1003.0 1080.4C1011.1 1085.3 1017.6 1083.2 1026.1 1087.0C1034.6 1090.8 1046.4 1098.0 1054.1 1103.5C1061.8 1109.0 1064.8 1113.3 1072.2 1119.9C1079.6 1126.5 1090.5 1137.8 1098.5 1143.0C1106.5 1148.2 1110.9 1147.9 1119.9 1151.2C1129.0 1154.5 1144.3 1158.3 1152.8 1162.7C1161.3 1167.1 1164.3 1170.6 1170.9 1177.5C1177.5 1184.4 1184.9 1197.9 1192.3 1203.9C1199.7 1209.9 1207.3 1208.4 1215.4 1213.7C1223.5 1219.0 1232.9 1230.1 1241.0 1235.5C1249.1 1240.9 1257.3 1244.1 1263.8 1246.2C1270.3 1248.3 1274.3 1249.0 1280.0 1248.0C1285.7 1247.0 1292.7 1243.3 1298.0 1240.0C1303.3 1236.7 1308.0 1233.7 1312.0 1228.0C1316.0 1222.3 1318.8 1213.8 1322.0 1206.0C1325.2 1198.2 1327.5 1194.7 1331.0 1181.0C1334.5 1167.3 1339.6 1143.3 1343.0 1124.0C1346.4 1104.7 1348.4 1084.0 1351.5 1065.0C1354.6 1046.0 1358.5 1030.8 1361.5 1010.0C1364.5 989.2 1366.6 961.7 1369.5 940.0C1372.4 918.3 1373.5 915.0 1379.0 880.0C1384.5 845.0 1393.8 783.3 1402.5 730.0C1411.2 676.7 1422.2 609.2 1431.5 560.0" stroke="#d02230" stroke-dasharray="27.5 30.6" stroke-dashoffset="0.00"/>
<path d="M1431.5 560.0C1440.8 510.8 1451.2 465.5 1458.0 435.0C1464.8 404.5 1467.7 394.7 1472.0 377.0C1476.3 359.3 1480.8 340.4 1484.0 329.0C1487.2 317.6 1488.7 317.4 1491.4 308.7C1494.1 300.0 1496.3 285.3 1500.0 276.6C1503.7 267.9 1508.9 265.3 1513.5 256.5C1518.1 247.7 1522.1 231.9 1527.7 223.6C1533.3 215.3 1539.3 212.5 1547.2 206.9C1555.1 201.3 1566.3 193.9 1575.1 190.2C1583.9 186.5 1591.4 186.0 1600.2 184.6C1609.0 183.2 1621.4 181.9 1628.0 181.8C1634.6 181.7 1628.8 184.5 1640.0 184.2C1651.2 183.9 1676.5 181.4 1695.3 179.8C1714.1 178.2 1733.6 176.6 1753.0 174.9C1772.4 173.2 1792.3 171.8 1811.7 169.4C1831.1 167.0 1850.1 163.1 1869.4 160.7C1888.7 158.3 1908.0 156.5 1927.3 154.8C1946.6 153.2 1965.8 151.9 1985.2 150.8C2004.6 149.7 2024.3 148.8 2043.7 148.4C2063.1 148.0 2082.6 146.5 2101.8 148.4C2121.0 150.3 2140.2 154.5 2158.8 159.8C2177.4 165.1 2195.1 174.0 2213.5 180.3C2231.9 186.6 2251.0 192.1 2269.4 197.4C2287.8 202.7 2307.4 206.9 2324.1 212.2C2340.8 217.5 2362.1 226.5 2369.7 229.3" stroke="#d02230" stroke-dasharray="27.5 30.6" stroke-dashoffset="3.96"/>
<path d="M336.0 1307.8C338.0 1306.5 344.3 1302.0 348.0 1300.0C351.7 1298.0 354.0 1295.0 358.0 1295.5C362.0 1296.0 367.2 1301.1 372.0 1303.0C376.8 1304.9 379.3 1306.2 386.5 1306.9C393.7 1307.7 405.5 1307.2 415.0 1307.5C424.5 1307.8 434.3 1308.3 443.5 1308.5C452.7 1308.7 460.6 1308.5 470.3 1308.5C480.0 1308.5 491.9 1308.5 501.7 1308.5C511.5 1308.5 519.6 1308.7 529.0 1308.5C538.4 1308.3 548.8 1307.6 558.2 1307.4C567.6 1307.2 576.0 1307.4 585.6 1307.4C595.2 1307.4 606.1 1307.4 615.8 1307.4C625.5 1307.4 633.1 1308.0 643.8 1307.4C654.5 1306.8 669.1 1304.8 679.8 1303.9C690.4 1303.0 698.1 1304.1 707.7 1302.2C717.3 1300.3 728.9 1296.1 737.4 1292.3C745.9 1288.5 751.4 1285.8 758.8 1279.2C766.2 1272.6 775.0 1259.9 781.6 1252.8" stroke="#d02230" stroke-dasharray="27.5 30.6" stroke-dashoffset="0.00"/>
<path d="M781.6 1252.8C788.2 1245.7 791.2 1243.0 798.1 1236.4C805.0 1229.8 814.8 1219.1 822.8 1213.3C830.8 1207.5 837.3 1206.2 845.8 1201.8C854.3 1197.4 864.7 1188.9 873.8 1187.0C882.9 1185.1 891.4 1186.7 900.2 1190.3C909.0 1193.9 918.8 1202.6 926.5 1208.4C934.2 1214.2 938.6 1219.1 946.3 1224.9C954.0 1230.7 964.1 1238.6 972.6 1243.0C981.1 1247.4 987.8 1249.1 997.3 1251.2C1006.8 1253.3 1019.8 1253.6 1029.3 1255.7C1038.8 1257.8 1045.4 1260.6 1054.5 1263.7C1063.6 1266.8 1074.9 1271.0 1083.8 1274.3C1092.7 1277.6 1098.2 1281.8 1107.7 1283.6C1117.2 1285.4 1130.9 1283.8 1140.9 1284.9C1150.9 1286.0 1157.8 1288.2 1167.5 1290.2C1177.2 1292.2 1189.9 1295.3 1199.4 1296.9" stroke="#d02230" stroke-dasharray="27.5 30.6" stroke-dashoffset="2.02"/>
<path d="M1199.4 1296.9C1208.9 1298.5 1215.2 1298.4 1224.7 1299.6C1234.2 1300.8 1246.6 1303.2 1256.2 1303.9C1265.8 1304.6 1274.8 1304.7 1282.1 1303.9C1289.4 1303.1 1294.9 1300.8 1300.0 1299.0C1305.1 1297.2 1308.8 1295.4 1312.8 1293.3C1316.8 1291.2 1320.3 1289.0 1324.0 1286.5C1327.7 1284.0 1331.7 1282.2 1335.0 1278.0C1338.3 1273.8 1341.2 1268.0 1344.0 1261.0C1346.8 1254.0 1349.5 1244.8 1351.8 1236.0C1354.1 1227.2 1355.9 1217.3 1358.0 1208.0C1360.1 1198.7 1362.3 1189.7 1364.3 1180.0C1366.3 1170.3 1368.1 1159.7 1370.0 1150.0C1371.9 1140.3 1373.7 1131.5 1375.5 1122.0C1377.3 1112.5 1379.3 1102.5 1381.0 1093.0" stroke="#d02230" stroke-dasharray="27.5 30.6" stroke-dashoffset="1.98"/>
<path d="M1381.0 1093.0C1382.7 1083.5 1384.1 1078.8 1385.9 1065.0C1387.7 1051.2 1389.5 1030.8 1391.9 1010.0C1394.3 989.2 1397.0 961.7 1400.5 940.0C1404.0 918.3 1407.1 915.0 1413.0 880.0C1418.9 845.0 1428.3 783.3 1436.0 730.0C1443.7 676.7 1451.7 601.7 1459.0 560.0C1466.3 518.3 1474.2 501.0 1480.0 480.0C1485.8 459.0 1489.8 447.3 1494.0 434.0C1498.2 420.7 1500.8 409.0 1505.0 400.0C1509.2 391.0 1514.3 386.7 1519.0 380.0C1523.7 373.3 1528.4 365.8 1533.0 360.0C1537.6 354.2 1540.3 349.3 1546.7 345.1C1553.1 340.9 1562.3 337.6 1571.5 334.9C1580.7 332.2 1595.1 330.4 1602.1 329.1C1609.1 327.8 1609.2 327.9 1613.3 327.2C1617.4 326.5 1617.7 324.5 1626.9 324.7C1636.1 324.9 1651.9 328.7 1668.7 328.3C1685.5 327.9 1707.9 324.0 1727.5 322.3C1747.1 320.6 1766.5 319.7 1786.2 318.3C1805.9 316.9 1826.4 315.4 1845.8 313.8C1865.2 312.2 1883.6 309.8 1902.8 308.8C1922.0 307.8 1941.4 308.2 1960.7 307.9C1980.0 307.6 1999.1 306.9 2018.6 306.9C2038.1 306.9 2058.5 306.5 2077.9 308.0C2097.3 309.5 2116.1 311.9 2134.9 315.9C2153.7 319.9 2172.1 326.0 2190.7 331.9C2209.3 337.8 2228.0 345.2 2246.6 351.3C2265.2 357.4 2284.0 363.1 2302.4 368.4C2320.8 373.7 2345.8 380.1 2357.1 383.2C2368.4 386.3 2367.8 386.4 2370.0 387.0" stroke="#d02230" stroke-dasharray="27.5 30.6" stroke-dashoffset="41.76"/>
</g>
<g stroke="#1c1c1c" stroke-width="3.7" fill="none">
<rect x="294.5" y="36.4" width="2172.7" height="1434.2"/>
<line x1="294.5" y1="1470.0" x2="323.5" y2="1470.0"/>
<line x1="2467.2" y1="1470.0" x2="2438.2" y2="1470.0"/>
<line x1="294.5" y1="1266.5" x2="323.5" y2="1266.5"/>
<line x1="2467.2" y1="1266.5" x2="2438.2" y2="1266.5"/>
<line x1="294.5" y1="1063.1" x2="323.5" y2="1063.1"/>
<line x1="2467.2" y1="1063.1" x2="2438.2" y2="1063.1"/>
<line x1="294.5" y1="859.6" x2="323.5" y2="859.6"/>
<line x1="2467.2" y1="859.6" x2="2438.2" y2="859.6"/>
<line x1="294.5" y1="656.2" x2="323.5" y2="656.2"/>
<line x1="2467.2" y1="656.2" x2="2438.2" y2="656.2"/>
<line x1="294.5" y1="452.7" x2="323.5" y2="452.7"/>
<line x1="2467.2" y1="452.7" x2="2438.2" y2="452.7"/>
<line x1="294.5" y1="249.2" x2="323.5" y2="249.2"/>
<line x1="2467.2" y1="249.2" x2="2438.2" y2="249.2"/>
<line x1="294.5" y1="45.8" x2="323.5" y2="45.8"/>
<line x1="2467.2" y1="45.8" x2="2438.2" y2="45.8"/>
<line x1="375.0" y1="1470.6" x2="375.0" y2="1439.6"/>
<line x1="704.8" y1="1470.6" x2="704.8" y2="1439.6"/>
<line x1="1034.7" y1="1470.6" x2="1034.7" y2="1439.6"/>
<line x1="1364.5" y1="1470.6" x2="1364.5" y2="1439.6"/>
<line x1="1694.3" y1="1470.6" x2="1694.3" y2="1439.6"/>
<line x1="2024.2" y1="1470.6" x2="2024.2" y2="1439.6"/>
<line x1="2354.0" y1="1470.6" x2="2354.0" y2="1439.6"/>
</g>
<text font-size="61.7" text-anchor="end" transform="translate(273.5 1492.5) scale(0.9569 1)">0</text>
<text font-size="61.7" text-anchor="end" transform="translate(273.5 1289.0) scale(0.9569 1)">1000</text>
<text font-size="61.7" text-anchor="end" transform="translate(273.5 1085.6) scale(0.9569 1)">2000</text>
<text font-size="61.7" text-anchor="end" transform="translate(273.5 882.1) scale(0.9569 1)">3000</text>
<text font-size="61.7" text-anchor="end" transform="translate(273.5 678.7) scale(0.9569 1)">4000</text>
<text font-size="61.7" text-anchor="end" transform="translate(273.5 475.2) scale(0.9569 1)">5000</text>
<text font-size="61.7" text-anchor="end" transform="translate(273.5 271.7) scale(0.9569 1)">6000</text>
<text font-size="61.7" text-anchor="end" transform="translate(273.5 68.3) scale(0.9569 1)">7000</text>
<text font-size="61.7" text-anchor="middle" transform="translate(375.0 1549.0) scale(0.9569 1)">400</text>
<text font-size="61.7" text-anchor="middle" transform="translate(704.8 1549.0) scale(0.9569 1)">500</text>
<text font-size="61.7" text-anchor="middle" transform="translate(1034.7 1549.0) scale(0.9569 1)">600</text>
<text font-size="61.7" text-anchor="middle" transform="translate(1364.5 1549.0) scale(0.9569 1)">700</text>
<text font-size="61.7" text-anchor="middle" transform="translate(1694.3 1549.0) scale(0.9569 1)">800</text>
<text font-size="61.7" text-anchor="middle" transform="translate(2024.2 1549.0) scale(0.9569 1)">900</text>
<text font-size="61.7" text-anchor="middle" transform="translate(2354.0 1549.0) scale(0.9569 1)">1000</text>
<text font-size="60.6" text-anchor="middle" transform="translate(1380.0 1658.0) scale(0.9569 1)">Wavelength (nm)</text>
<text font-size="61.7" text-anchor="middle" transform="translate(78.0 752.0) rotate(-90) scale(0.9569 1)">Reflectance</text>
<g stroke-width="6" fill="none">
<line x1="1670" y1="921.0" x2="1769" y2="921.0" stroke="#2222b0"/>
<line x1="1670" y1="982.6" x2="1769" y2="982.6" stroke="#2222b0" stroke-dasharray="29 30"/>
<line x1="1670" y1="1044.2" x2="1769" y2="1044.2" stroke="#36dc36"/>
<line x1="1670" y1="1105.8" x2="1769" y2="1105.8" stroke="#36dc36" stroke-dasharray="29 30"/>
<line x1="1670" y1="1167.4" x2="1769" y2="1167.4" stroke="#d02230"/>
<line x1="1670" y1="1229.0" x2="1769" y2="1229.0" stroke="#d02230" stroke-dasharray="29 30"/>
</g>
<text font-size="60.9" transform="translate(1813.0 943.7) scale(0.9569 1)">Abaxial mean</text>
<text font-size="60.9" transform="translate(1813.0 1005.3) scale(0.9569 1)">Abaxial mean ± SD</text>
<text font-size="60.9" transform="translate(1813.0 1066.9) scale(0.9569 1)">Adaxial mean</text>
<text font-size="60.9" transform="translate(1813.0 1128.5) scale(0.9569 1)">Adaxial mean ± SD</text>
<text font-size="60.9" transform="translate(1813.0 1190.1) scale(0.9569 1)">Combined mean</text>
<text font-size="60.9" transform="translate(1813.0 1251.7) scale(0.9569 1)">Combined mean ± SD</text>
</svg></div></body></html>
